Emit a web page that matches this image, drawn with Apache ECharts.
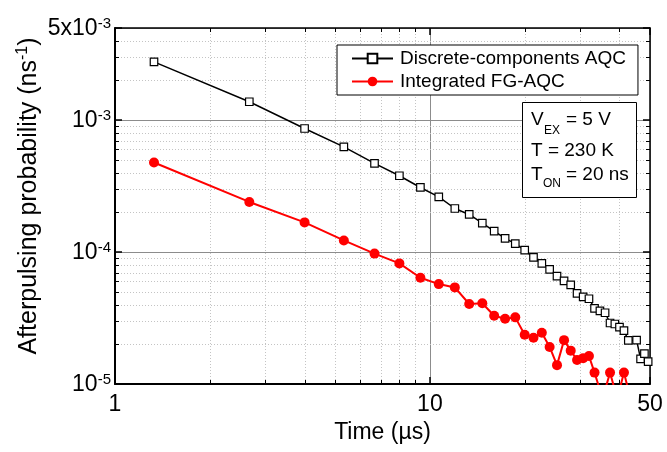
<!DOCTYPE html>
<html><head><meta charset="utf-8">
<script src="https://cdn.jsdelivr.net/npm/echarts@6/dist/echarts.min.js"></script>
<style>html,body{margin:0;padding:0;background:#fff}#c{width:667px;height:452px}</style>
</head><body><div id="c"></div>
<script>
// ---- data ----
const timeUs = [1.33, 2.67, 4.0, 5.33, 6.67, 8.0, 9.33, 10.67, 12.0, 13.33, 14.67, 16.0, 17.33, 18.67, 20.0, 21.33, 22.67, 24.0, 25.33, 26.67, 28.0, 29.33, 30.67, 32.0, 33.33, 34.67, 36.0, 37.33, 38.67, 40.0, 41.33, 42.67, 44.0, 45.33, 46.67, 48.0, 49.33];
const discreteAQC = [2.77e-3, 1.38e-3, 8.65e-4, 6.28e-4, 4.70e-4, 3.79e-4, 3.09e-4, 2.62e-4, 2.14e-4, 1.93e-4, 1.66e-4, 1.44e-4, 1.27e-4, 1.16e-4, 1.035e-4, 9.12e-5, 8.21e-5, 7.39e-5, 6.58e-5, 6.06e-5, 5.65e-5, 4.86e-5, 4.58e-5, 4.43e-5, 3.75e-5, 3.59e-5, 3.47e-5, 2.90e-5, 2.85e-5, 2.70e-5, 2.54e-5, 2.14e-5, null, 2.15e-5, 1.55e-5, 1.70e-5, 1.48e-5];
const integratedFG = [4.78e-4, 2.40e-4, 1.68e-4, 1.226e-4, 9.74e-5, 8.21e-5, 6.39e-5, 5.72e-5, 5.40e-5, 4.04e-5, 4.09e-5, 3.29e-5, 3.12e-5, 3.20e-5, 2.36e-5, 2.24e-5, 2.45e-5, 1.91e-5, 1.39e-5, 2.15e-5, 1.79e-5, 1.52e-5, 1.57e-5, 1.63e-5, 1.22e-5, 9.0e-6, 9.0e-6, 1.22e-5, 9.0e-6, 9.0e-6, 1.22e-5, 9.0e-6];
const legendNames = ['Discrete-components AQC', 'Integrated FG-AQC'];
const xRange = [1, 50];
const yRange = [1e-5, 5e-3];
const xMinorTicks = [2, 3, 4, 5, 6, 7, 8, 9, 20, 30, 40];
const yMinorTicks = [2e-5, 3e-5, 4e-5, 5e-5, 6e-5, 7e-5, 8e-5, 9e-5, 2e-4, 3e-4, 4e-4, 5e-4, 6e-4, 7e-4, 8e-4, 9e-4, 2e-3, 3e-3, 4e-3];
const xTitle = 'Time (µs)';
const yTitle = ['Afterpulsing probability (ns', '-1', ')'];
const infoLines = [['V', 'EX', '= 5 V'], ['T = 230 K', '', ''], ['T', 'ON', '= 20 ns']];

// ---- chart ----
const FONT = '"Liberation Sans", Arial, Helvetica, sans-serif';
const chart = echarts.init(document.getElementById('c'), null, {renderer: 'canvas'});

function pairs(xs, ys) { return ys.map((y, i) => [xs[i], y == null ? '-' : y]); }

function yLabel(v) {
  const e = Math.log10(v);
  const r = Math.round(e);
  if (Math.abs(e - r) < 1e-6) return '{b|10}{s|' + r + '}';
  const f = Math.floor(e);
  const m = Math.round(v / Math.pow(10, f));
  return '{b|' + m + 'x10}{s|' + f + '}';
}

function al(p) { return Math.round(p) + 0.5; }

function renderXMinor(params, api) {
  const cs = params.coordSys;
  const px = al(api.coord([api.value(0), yRange[0]])[0]);
  const top = cs.y, bot = cs.y + cs.height;
  return {type: 'group', children: [
    {type: 'line', shape: {x1: px, y1: top, x2: px, y2: bot}, style: {stroke: '#c4c4c4', lineWidth: 1, lineDash: [1, 2]}},
    {type: 'line', shape: {x1: px, y1: bot, x2: px, y2: bot - 4}, style: {stroke: '#000', lineWidth: 1}},
    {type: 'line', shape: {x1: px, y1: top, x2: px, y2: top + 4}, style: {stroke: '#000', lineWidth: 1}}
  ]};
}
function renderYMinor(params, api) {
  const cs = params.coordSys;
  const py = al(api.coord([xRange[0], api.value(1)])[1]);
  const l = cs.x, r = cs.x + cs.width;
  return {type: 'group', children: [
    {type: 'line', shape: {x1: l, y1: py, x2: r, y2: py}, style: {stroke: '#c4c4c4', lineWidth: 1, lineDash: [1, 2]}},
    {type: 'line', shape: {x1: l, y1: py, x2: l + 4, y2: py}, style: {stroke: '#000', lineWidth: 1}},
    {type: 'line', shape: {x1: r, y1: py, x2: r - 4, y2: py}, style: {stroke: '#000', lineWidth: 1}}
  ]};
}

const axisCommon = {
  axisLine: {show: true, onZero: false, lineStyle: {color: '#000', width: 1.5}},
  axisTick: {show: true, inside: true, length: 7, lineStyle: {color: '#000', width: 1.5}},
  minorTick: {show: false}, minorSplitLine: {show: false}
};

const txt = (t, x, y, size) => ({type: 'text', x: x, y: y, z: 101,
  style: {text: t, fontFamily: FONT, fontSize: size, fill: '#000', align: 'left', verticalAlign: 'middle'}});

const infoRowY = [120, 151, 175];
const graphics = [
  {type: 'rect', z: 100, shape: {x: 522.5, y: 102.5, width: 114, height: 95}, style: {fill: '#fff', stroke: '#000', lineWidth: 1}},
  txt(infoLines[0][0], 531, infoRowY[0], 19), txt(infoLines[0][1], 544, infoRowY[0] + 11, 12), txt(infoLines[0][2], 566, infoRowY[0], 19),
  txt(infoLines[1][0], 531, infoRowY[1], 19),
  txt(infoLines[2][0], 531, infoRowY[2], 19), txt(infoLines[2][1], 543, infoRowY[2] + 8.5, 12), txt(infoLines[2][2], 566, infoRowY[2], 19),
  {type: 'text', x: 28, y: 196, rotation: Math.PI / 2, z: 101,
   style: {text: '{a|' + yTitle[0] + '}{s|' + yTitle[1] + '}{a|' + yTitle[2] + '}', align: 'center', verticalAlign: 'middle',
     rich: {a: {fontFamily: FONT, fontSize: 25, lineHeight: 27, fill: '#000', verticalAlign: 'bottom'},
            s: {fontFamily: FONT, fontSize: 16, lineHeight: 16, fill: '#000', verticalAlign: 'top'}}}}
];

const option = {
  animation: false,
  backgroundColor: '#fff',
  grid: {left: 115, right: 17, top: 28, bottom: 68, containLabel: false, outerBoundsMode: 'none'},
  legend: {
    orient: 'vertical', left: 337, top: 45, padding: [4, 12, 4, 14], itemGap: 4,
    itemWidth: 41, itemHeight: 12, borderColor: '#000', borderWidth: 1, backgroundColor: '#fff', borderRadius: 0,
    textStyle: {fontFamily: FONT, fontSize: 19, color: '#000', padding: [0, 0, 0, 2]},
    data: legendNames, selectedMode: false, z: 100
  },
  xAxis: [
    Object.assign({}, axisCommon, {
      type: 'log', logBase: 10, min: xRange[0], max: xRange[1], position: 'bottom',
      axisLine: {show: true, onZero: false, lineStyle: {color: '#000', width: 2}},
      name: xTitle, nameLocation: 'middle', nameGap: 37,
      nameTextStyle: {fontFamily: FONT, fontSize: 23, color: '#000'},
      axisLabel: {show: true, margin: 9, fontFamily: FONT, fontSize: 23, color: '#000', showMinLabel: true, showMaxLabel: true,
        formatter: v => String(Math.round(v))},
      splitLine: {show: true, lineStyle: {color: '#8c8c8c', width: 1}}
    }),
    Object.assign({}, axisCommon, {
      type: 'log', logBase: 10, min: xRange[0], max: xRange[1], position: 'top',
      axisLabel: {show: false}, splitLine: {show: false}
    })
  ],
  yAxis: [
    Object.assign({}, axisCommon, {
      type: 'log', logBase: 10, min: yRange[0], max: yRange[1], position: 'left',
      axisLine: {show: true, onZero: false, lineStyle: {color: '#000', width: 2}},
      axisLabel: {show: true, margin: 4, showMinLabel: true, showMaxLabel: true, formatter: yLabel,
        rich: {b: {fontFamily: FONT, fontSize: 23, lineHeight: 24, color: '#000', verticalAlign: 'bottom'},
               s: {fontFamily: FONT, fontSize: 15, lineHeight: 15, color: '#000', verticalAlign: 'top'}}},
      splitLine: {show: true, lineStyle: {color: '#8c8c8c', width: 1}}
    }),
    Object.assign({}, axisCommon, {
      type: 'log', logBase: 10, min: yRange[0], max: yRange[1], position: 'right',
      axisLabel: {show: false}, splitLine: {show: false}
    })
  ],
  series: [
    {type: 'custom', name: 'xminor', xAxisIndex: 0, yAxisIndex: 0, z: 1, silent: true,
     data: xMinorTicks.map(v => [v, yRange[0]]), renderItem: renderXMinor},
    {type: 'custom', name: 'yminor', xAxisIndex: 0, yAxisIndex: 0, z: 1, silent: true,
     data: yMinorTicks.map(v => [xRange[0], v]), renderItem: renderYMinor},
    {name: legendNames[0], type: 'line', xAxisIndex: 0, yAxisIndex: 0, z: 3,
     data: pairs(timeUs, discreteAQC), connectNulls: true,
     symbol: 'rect', symbolSize: 7.5,
     lineStyle: {color: '#000', width: 1.5},
     itemStyle: {color: '#fff', borderColor: '#000', borderWidth: 1.2}},
    {name: legendNames[1], type: 'line', xAxisIndex: 0, yAxisIndex: 0, z: 4,
     data: pairs(timeUs, integratedFG), connectNulls: false,
     symbol: 'circle', symbolSize: 10,
     lineStyle: {color: '#ff0000', width: 2},
     itemStyle: {color: '#ff0000'}}
  ],
  graphic: graphics
};
chart.setOption(option);
</script>
</body></html>
